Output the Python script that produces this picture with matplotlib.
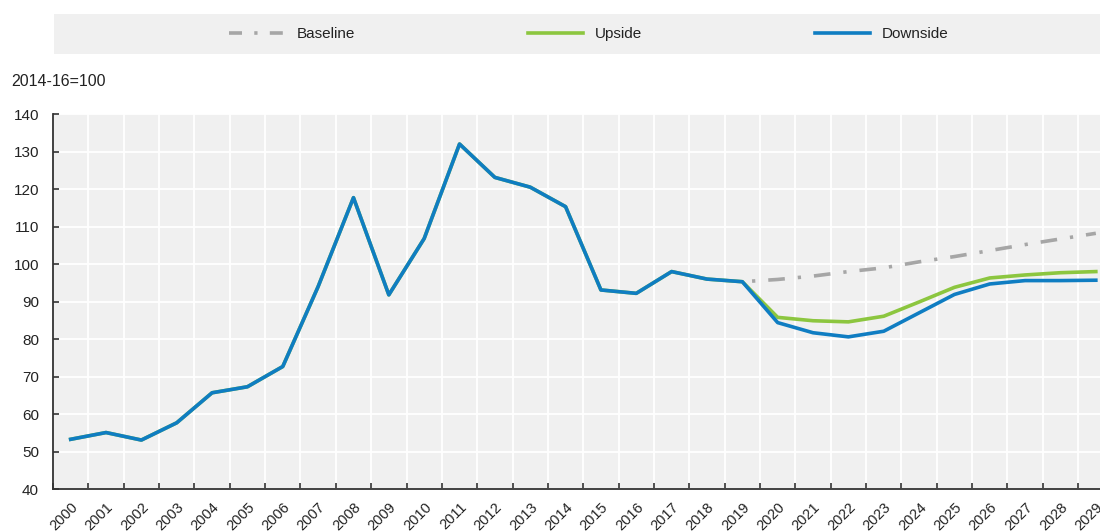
import matplotlib
matplotlib.use('Agg')
import matplotlib.pyplot as plt
from matplotlib.patches import Rectangle
from matplotlib.lines import Line2D
import numpy as np

plt.rcParams['font.family'] = ['Liberation Sans', 'DejaVu Sans']
plt.rcParams['text.color'] = '#222222'

# ---- data ----
years = [str(y) for y in range(2000, 2030)]
history = [53.3, 55.1, 53.1, 57.7, 65.7, 67.3, 72.7, 94.0, 117.7, 91.8,
           106.8, 132.0, 123.1, 120.5, 115.3, 93.1, 92.2, 98.0, 96.0, 95.3]
baseline_proj = [95.9, 96.8, 98.0, 99.0, 100.6, 102.0, 103.6, 105.2, 106.7, 108.2]
upside_proj = [85.8, 84.9, 84.6, 86.1, 89.9, 93.8, 96.3, 97.1, 97.7, 98.0]
downside_proj = [84.4, 81.7, 80.6, 82.1, 87.0, 91.9, 94.7, 95.6, 95.6, 95.7]
series_labels = ['Baseline', 'Upside', 'Downside']
unit_label = '2014-16=100'

baseline = [history[-1]] + baseline_proj
upside = history + upside_proj
downside = history + downside_proj

c_base = '#a6a6a6'
c_up = '#8cc63f'
c_down = '#0f7dc2'
bg = '#f0f0f0'
LW = 2.6
base_ls = (5.5, (4.6, 3.6, 0.9, 3.6))
legend_base_ls = (0, (3.6, 3.4, 0.9, 3.4))

W, H = 1100, 532
fig = plt.figure(figsize=(W / 100, H / 100), dpi=100)

# legend band
fig.patches.append(Rectangle((54 / W, 1 - 54 / H), 1 - 54 / W, 40 / H,
                             transform=fig.transFigure, facecolor=bg,
                             edgecolor='none', zorder=0))

ax = fig.add_axes([53 / W, (H - 489.2) / H, 1060.5 / W, 375.2 / H])
ax.set_facecolor(bg)

x = np.arange(len(years))
n_hist = len(history)
ax.plot(x[n_hist - 1:], baseline, color=c_base, lw=LW, linestyle=base_ls, zorder=2)
ax.plot(x, upside, color=c_up, lw=LW, zorder=3, solid_joinstyle='round')
ax.plot(x, downside, color=c_down, lw=LW, zorder=4, solid_joinstyle='round')

ax.set_xlim(-0.5, len(years) - 0.5)
ax.set_ylim(40, 140)

ax.set_xticks(x)
ax.set_xticklabels(years, rotation=45, ha='right', rotation_mode='anchor', fontsize=10.5)
ax.set_xticks(np.arange(-0.5, len(years), 1), minor=True)
ax.tick_params(axis='x', which='major', length=0, pad=8, colors='#222222')
ax.tick_params(axis='x', which='minor', direction='in', length=4, width=1.2, color='#333333')
ax.xaxis.grid(True, which='minor', color='white', lw=1.3)

ax.set_yticks(np.arange(40, 141, 10))
ax.tick_params(axis='y', direction='in', length=4, width=1.2, color='#333333',
               pad=10, labelsize=11, labelcolor='#222222')
ax.yaxis.grid(True, which='major', color='white', lw=1.3)
ax.set_axisbelow(True)

for s in ['top', 'right']:
    ax.spines[s].set_visible(False)
for s in ['left', 'bottom']:
    ax.spines[s].set_color('#333333')
    ax.spines[s].set_linewidth(1.3)

fig.text(11 / W, 1 - 82 / H, unit_label, fontsize=11.5, va='center', ha='left')

handles = [Line2D([], [], color=c_base, lw=LW, linestyle=legend_base_ls),
           Line2D([], [], color=c_up, lw=LW),
           Line2D([], [], color=c_down, lw=LW)]
fig.legend(handles, series_labels, loc='center', bbox_to_anchor=(589 / W, 1 - 34 / H),
           ncol=3, frameon=False, fontsize=11, handlelength=3.6, handletextpad=0.8,
           columnspacing=11.3)

fig.savefig('out.png', dpi=100)
